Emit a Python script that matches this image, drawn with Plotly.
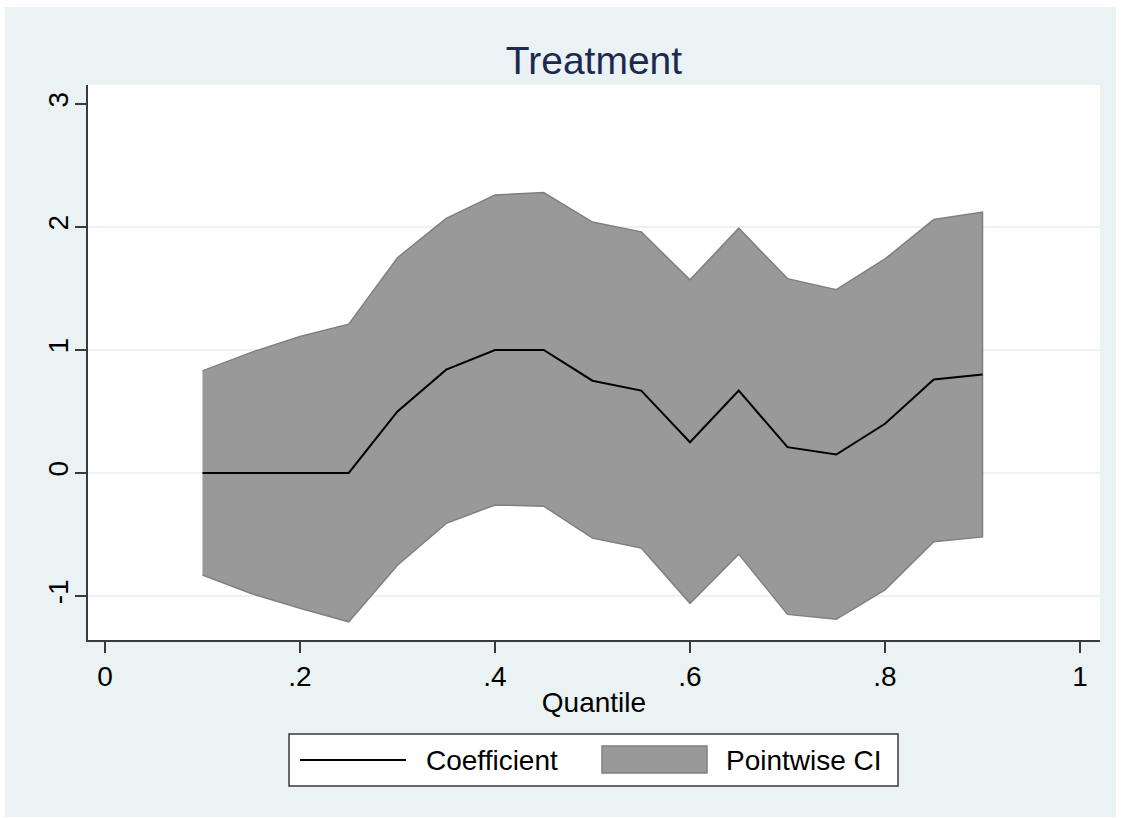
import plotly.graph_objects as go

# Quantile regression results for the treatment coefficient
quantiles = [0.10, 0.15, 0.20, 0.25, 0.30, 0.35, 0.40, 0.45, 0.50,
             0.55, 0.60, 0.65, 0.70, 0.75, 0.80, 0.85, 0.90]
coefficient = [0.0, 0.0, 0.0, 0.0, 0.50, 0.84, 1.00, 1.00, 0.75,
               0.67, 0.25, 0.67, 0.21, 0.15, 0.40, 0.76, 0.80]
ci_upper = [0.83, 0.98, 1.11, 1.21, 1.75, 2.07, 2.26, 2.28, 2.04,
            1.96, 1.57, 1.99, 1.58, 1.49, 1.74, 2.06, 2.12]
ci_lower = [-0.83, -0.98, -1.10, -1.21, -0.75, -0.41, -0.26, -0.27, -0.53,
            -0.61, -1.06, -0.66, -1.15, -1.19, -0.95, -0.56, -0.52]

x_ticks = [0, 0.2, 0.4, 0.6, 0.8, 1.0]
x_tick_labels = ["0", ".2", ".4", ".6", ".8", "1"]
y_ticks = [-1, 0, 1, 2, 3]
y_tick_labels = ["-1", "0", "1", "2", "3"]

W, H = 1122, 818
ML, MR, MT, MB = 88, 22, 85, 178
PW, PH = W - ML - MR, H - MT - MB

FONT = "Liberation Sans, Arial, sans-serif"
PANEL = "#EAF2F3"
AXIS = "#3a3a3a"
FILL = "#999999"
EDGE = "#808080"


def px(x):
    return (x - ML) / PW


def py(y):
    return (H - MB - y) / PH


fig = go.Figure()

# confidence band as a closed polygon
fig.add_trace(go.Scatter(
    x=quantiles + quantiles[::-1],
    y=ci_upper + ci_lower[::-1],
    fill="toself", fillcolor=FILL,
    line=dict(color=EDGE, width=1.5),
    mode="lines", hoverinfo="skip", showlegend=False,
))
fig.add_trace(go.Scatter(
    x=quantiles, y=coefficient, mode="lines",
    line=dict(color="black", width=2), showlegend=False,
))

shapes = []
# horizontal grid lines (none at the axis maximum)
for v in y_ticks[:-1]:
    shapes.append(dict(type="line", xref="paper", yref="y", x0=0, x1=1,
                       y0=v, y1=v, line=dict(color=PANEL, width=2),
                       layer="below"))

# thin white frame round the graph region
frame = [(-5, -5, 5, H + 5), (W - 6, -5, W + 5, H + 5),
         (-5, -5, W + 5, 7), (-5, H - 1, W + 5, H + 5)]
for x0, y0, x1, y1 in frame:
    shapes.append(dict(type="rect", xref="paper", yref="paper",
                       x0=px(x0), x1=px(x1), y0=py(y1), y1=py(y0),
                       fillcolor="white", line=dict(width=0), layer="above"))

# legend box and keys
LB = dict(x0=289, x1=898, y0=734, y1=786)
shapes.append(dict(type="rect", xref="paper", yref="paper",
                   x0=px(LB["x0"]), x1=px(LB["x1"]),
                   y0=py(LB["y1"]), y1=py(LB["y0"]),
                   fillcolor="white", line=dict(color=AXIS, width=1.5)))
shapes.append(dict(type="line", xref="paper", yref="paper",
                   x0=px(300), x1=px(406), y0=py(760), y1=py(760),
                   line=dict(color="black", width=2)))
shapes.append(dict(type="rect", xref="paper", yref="paper",
                   x0=px(602), x1=px(707), y0=py(773), y1=py(746),
                   fillcolor=FILL, line=dict(color=EDGE, width=1.5)))

annotations = [
    dict(text="Coefficient", xref="paper", yref="paper", x=px(424), y=py(760),
         xanchor="left", yanchor="middle", showarrow=False,
         font=dict(family=FONT, size=28, color="black")),
    dict(text="Pointwise CI", xref="paper", yref="paper", x=px(724), y=py(760),
         xanchor="left", yanchor="middle", showarrow=False,
         font=dict(family=FONT, size=28, color="black")),
]

fig.update_layout(
    width=W, height=H,
    margin=dict(l=ML, r=MR, t=MT, b=MB),
    paper_bgcolor=PANEL, plot_bgcolor="white",
    title=dict(text="Treatment", xref="paper", x=px(594), xanchor="center",
               yref="container", y=(H - 60) / H, yanchor="middle",
               font=dict(family=FONT, size=39, color="#1c2a52")),
    shapes=shapes, annotations=annotations,
    showlegend=False,
    xaxis=dict(range=[-0.0174, 1.0205], tickvals=x_ticks, ticktext=x_tick_labels,
               showgrid=False, zeroline=False, showline=True, linecolor=AXIS,
               linewidth=1.5, ticks="outside", ticklen=11, tickwidth=1.5,
               tickcolor=AXIS, tickfont=dict(family=FONT, size=28, color="black"),
               title=dict(text="Quantile", standoff=1,
                          font=dict(family=FONT, size=28, color="black"))),
    yaxis=dict(range=[-1.358, 3.154], tickvals=y_ticks, ticktext=y_tick_labels,
               showgrid=False, zeroline=False, showline=True, linecolor=AXIS,
               linewidth=1.5, ticks="outside", ticklen=11, tickwidth=1.5,
               tickcolor=AXIS, tickangle=-90, ticklabelstandoff=-4,
               tickfont=dict(family=FONT, size=28, color="black")),
)

fig.write_html("out.html")
